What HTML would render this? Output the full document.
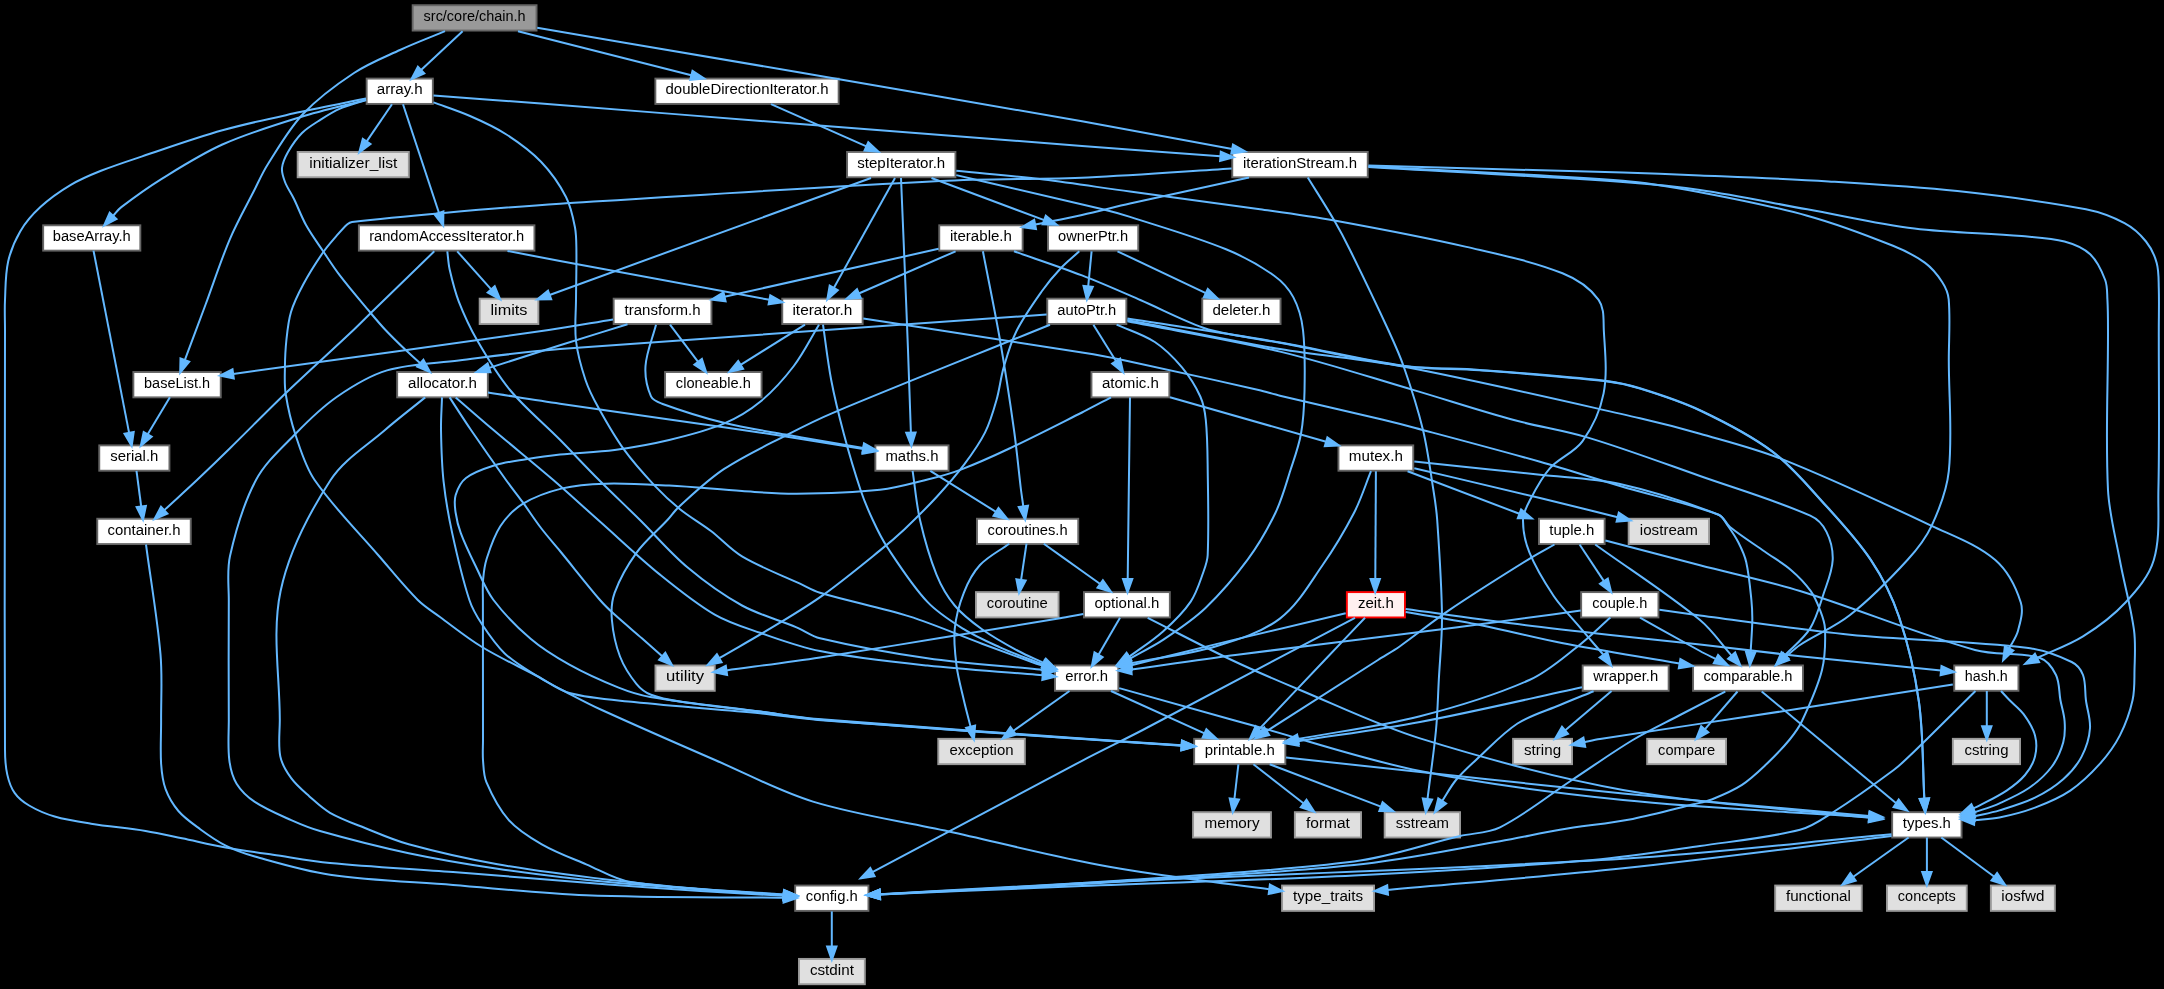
<!DOCTYPE html><html><head><meta charset="utf-8"><style>html,body{margin:0;padding:0;background:#000;}svg{display:block;will-change:transform}</style></head><body>
<svg width="2164" height="989" viewBox="0 0 2164 989">
<rect x="0" y="0" width="2164" height="989" fill="#000"/>
<g font-family="Liberation Sans, sans-serif" font-size="14.0" style="opacity:0.999" text-anchor="middle" fill="#000">
<rect x="412.67" y="5.23" width="123.87" height="25.33" fill="#999999" stroke="#666666" stroke-width="1.9"/>
<text x="474.60" y="21.10" textLength="102.0" lengthAdjust="spacingAndGlyphs">src/core/chain.h</text>
<rect x="366.67" y="78.59" width="66.17" height="25.33" fill="#ffffff" stroke="#666666" stroke-width="1.9"/>
<text x="399.75" y="94.46" textLength="46.0" lengthAdjust="spacingAndGlyphs">array.h</text>
<rect x="655.37" y="78.59" width="183.27" height="25.33" fill="#ffffff" stroke="#666666" stroke-width="1.9"/>
<text x="747.00" y="94.46" textLength="163.0" lengthAdjust="spacingAndGlyphs">doubleDirectionIterator.h</text>
<rect x="297.67" y="151.95" width="111.17" height="25.33" fill="#e0e0e0" stroke="#999999" stroke-width="1.9"/>
<text x="353.25" y="167.82" textLength="88.0" lengthAdjust="spacingAndGlyphs">initializer_list</text>
<rect x="847.07" y="151.95" width="108.37" height="25.33" fill="#ffffff" stroke="#666666" stroke-width="1.9"/>
<text x="901.25" y="167.82" textLength="88.0" lengthAdjust="spacingAndGlyphs">stepIterator.h</text>
<rect x="1232.27" y="151.95" width="135.47" height="25.33" fill="#ffffff" stroke="#666666" stroke-width="1.9"/>
<text x="1300.00" y="167.82" textLength="114.0" lengthAdjust="spacingAndGlyphs">iterationStream.h</text>
<rect x="43.17" y="225.31" width="97.17" height="25.33" fill="#ffffff" stroke="#666666" stroke-width="1.9"/>
<text x="91.75" y="241.18" textLength="78.0" lengthAdjust="spacingAndGlyphs">baseArray.h</text>
<rect x="358.87" y="225.31" width="175.57" height="25.33" fill="#ffffff" stroke="#666666" stroke-width="1.9"/>
<text x="446.65" y="241.18" textLength="155.0" lengthAdjust="spacingAndGlyphs">randomAccessIterator.h</text>
<rect x="939.27" y="225.31" width="83.37" height="25.33" fill="#ffffff" stroke="#666666" stroke-width="1.9"/>
<text x="980.95" y="241.18" textLength="62.0" lengthAdjust="spacingAndGlyphs">iterable.h</text>
<rect x="1047.97" y="225.31" width="90.27" height="25.33" fill="#ffffff" stroke="#666666" stroke-width="1.9"/>
<text x="1093.10" y="241.18" textLength="70.0" lengthAdjust="spacingAndGlyphs">ownerPtr.h</text>
<rect x="479.67" y="298.67" width="58.67" height="25.33" fill="#e0e0e0" stroke="#999999" stroke-width="1.9"/>
<text x="509.00" y="314.54" textLength="37.0" lengthAdjust="spacingAndGlyphs">limits</text>
<rect x="613.67" y="298.67" width="97.77" height="25.33" fill="#ffffff" stroke="#666666" stroke-width="1.9"/>
<text x="662.55" y="314.54" textLength="76.0" lengthAdjust="spacingAndGlyphs">transform.h</text>
<rect x="782.27" y="298.67" width="80.37" height="25.33" fill="#ffffff" stroke="#666666" stroke-width="1.9"/>
<text x="822.45" y="314.54" textLength="60.0" lengthAdjust="spacingAndGlyphs">iterator.h</text>
<rect x="1047.27" y="298.67" width="79.07" height="25.33" fill="#ffffff" stroke="#666666" stroke-width="1.9"/>
<text x="1086.80" y="314.54" textLength="59.0" lengthAdjust="spacingAndGlyphs">autoPtr.h</text>
<rect x="1202.27" y="298.67" width="78.27" height="25.33" fill="#ffffff" stroke="#666666" stroke-width="1.9"/>
<text x="1241.40" y="314.54" textLength="58.0" lengthAdjust="spacingAndGlyphs">deleter.h</text>
<rect x="133.37" y="372.03" width="87.37" height="25.33" fill="#ffffff" stroke="#666666" stroke-width="1.9"/>
<text x="177.05" y="387.90" textLength="66.0" lengthAdjust="spacingAndGlyphs">baseList.h</text>
<rect x="397.17" y="372.03" width="90.67" height="25.33" fill="#ffffff" stroke="#666666" stroke-width="1.9"/>
<text x="442.50" y="387.90" textLength="69.0" lengthAdjust="spacingAndGlyphs">allocator.h</text>
<rect x="665.07" y="372.03" width="96.47" height="25.33" fill="#ffffff" stroke="#666666" stroke-width="1.9"/>
<text x="713.30" y="387.90" textLength="75.0" lengthAdjust="spacingAndGlyphs">cloneable.h</text>
<rect x="1091.47" y="372.03" width="77.87" height="25.33" fill="#ffffff" stroke="#666666" stroke-width="1.9"/>
<text x="1130.40" y="387.90" textLength="57.0" lengthAdjust="spacingAndGlyphs">atomic.h</text>
<rect x="99.27" y="445.39" width="70.17" height="25.33" fill="#ffffff" stroke="#666666" stroke-width="1.9"/>
<text x="134.35" y="461.26" textLength="48.0" lengthAdjust="spacingAndGlyphs">serial.h</text>
<rect x="875.37" y="445.39" width="73.17" height="25.33" fill="#ffffff" stroke="#666666" stroke-width="1.9"/>
<text x="911.95" y="461.26" textLength="53.0" lengthAdjust="spacingAndGlyphs">maths.h</text>
<rect x="1338.47" y="445.39" width="74.77" height="25.33" fill="#ffffff" stroke="#666666" stroke-width="1.9"/>
<text x="1375.85" y="461.26" textLength="54.0" lengthAdjust="spacingAndGlyphs">mutex.h</text>
<rect x="97.27" y="518.75" width="93.47" height="25.33" fill="#ffffff" stroke="#666666" stroke-width="1.9"/>
<text x="144.00" y="534.62" textLength="73.0" lengthAdjust="spacingAndGlyphs">container.h</text>
<rect x="976.97" y="518.75" width="101.27" height="25.33" fill="#ffffff" stroke="#666666" stroke-width="1.9"/>
<text x="1027.60" y="534.62" textLength="80.0" lengthAdjust="spacingAndGlyphs">coroutines.h</text>
<rect x="1538.97" y="518.75" width="65.67" height="25.33" fill="#ffffff" stroke="#666666" stroke-width="1.9"/>
<text x="1571.80" y="534.62" textLength="45.0" lengthAdjust="spacingAndGlyphs">tuple.h</text>
<rect x="1628.67" y="518.75" width="80.37" height="25.33" fill="#e0e0e0" stroke="#999999" stroke-width="1.9"/>
<text x="1668.85" y="534.62" textLength="58.0" lengthAdjust="spacingAndGlyphs">iostream</text>
<rect x="975.97" y="592.11" width="82.57" height="25.33" fill="#e0e0e0" stroke="#999999" stroke-width="1.9"/>
<text x="1017.25" y="607.98" textLength="61.0" lengthAdjust="spacingAndGlyphs">coroutine</text>
<rect x="1083.97" y="592.11" width="85.87" height="25.33" fill="#ffffff" stroke="#666666" stroke-width="1.9"/>
<text x="1126.90" y="607.98" textLength="65.0" lengthAdjust="spacingAndGlyphs">optional.h</text>
<rect x="1346.87" y="592.11" width="58.07" height="25.33" fill="#fff0f0" stroke="#ff0000" stroke-width="1.9"/>
<text x="1375.90" y="607.98" textLength="36.0" lengthAdjust="spacingAndGlyphs">zeit.h</text>
<rect x="1581.17" y="592.11" width="77.27" height="25.33" fill="#ffffff" stroke="#666666" stroke-width="1.9"/>
<text x="1619.80" y="607.98" textLength="55.0" lengthAdjust="spacingAndGlyphs">couple.h</text>
<rect x="655.47" y="665.47" width="59.27" height="25.33" fill="#e0e0e0" stroke="#999999" stroke-width="1.9"/>
<text x="685.10" y="681.34" textLength="38.0" lengthAdjust="spacingAndGlyphs">utility</text>
<rect x="1054.97" y="665.47" width="63.37" height="25.33" fill="#ffffff" stroke="#666666" stroke-width="1.9"/>
<text x="1086.65" y="681.34" textLength="43.0" lengthAdjust="spacingAndGlyphs">error.h</text>
<rect x="1582.67" y="665.47" width="85.97" height="25.33" fill="#ffffff" stroke="#666666" stroke-width="1.9"/>
<text x="1625.65" y="681.34" textLength="65.0" lengthAdjust="spacingAndGlyphs">wrapper.h</text>
<rect x="1693.07" y="665.47" width="109.87" height="25.33" fill="#ffffff" stroke="#666666" stroke-width="1.9"/>
<text x="1748.00" y="681.34" textLength="89.0" lengthAdjust="spacingAndGlyphs">comparable.h</text>
<rect x="1954.27" y="665.47" width="64.17" height="25.33" fill="#ffffff" stroke="#666666" stroke-width="1.9"/>
<text x="1986.35" y="681.34" textLength="43.0" lengthAdjust="spacingAndGlyphs">hash.h</text>
<rect x="938.27" y="738.83" width="86.57" height="25.33" fill="#e0e0e0" stroke="#999999" stroke-width="1.9"/>
<text x="981.55" y="754.70" textLength="64.0" lengthAdjust="spacingAndGlyphs">exception</text>
<rect x="1194.17" y="738.83" width="91.17" height="25.33" fill="#ffffff" stroke="#666666" stroke-width="1.9"/>
<text x="1239.75" y="754.70" textLength="70.0" lengthAdjust="spacingAndGlyphs">printable.h</text>
<rect x="1513.07" y="738.83" width="58.97" height="25.33" fill="#e0e0e0" stroke="#999999" stroke-width="1.9"/>
<text x="1542.55" y="754.70" textLength="37.0" lengthAdjust="spacingAndGlyphs">string</text>
<rect x="1647.17" y="738.83" width="78.87" height="25.33" fill="#e0e0e0" stroke="#999999" stroke-width="1.9"/>
<text x="1686.60" y="754.70" textLength="57.0" lengthAdjust="spacingAndGlyphs">compare</text>
<rect x="1952.87" y="738.83" width="67.17" height="25.33" fill="#e0e0e0" stroke="#999999" stroke-width="1.9"/>
<text x="1986.45" y="754.70" textLength="44.0" lengthAdjust="spacingAndGlyphs">cstring</text>
<rect x="1193.07" y="812.19" width="77.87" height="25.33" fill="#e0e0e0" stroke="#999999" stroke-width="1.9"/>
<text x="1232.00" y="828.06" textLength="55.0" lengthAdjust="spacingAndGlyphs">memory</text>
<rect x="1294.87" y="812.19" width="66.17" height="25.33" fill="#e0e0e0" stroke="#999999" stroke-width="1.9"/>
<text x="1327.95" y="828.06" textLength="44.0" lengthAdjust="spacingAndGlyphs">format</text>
<rect x="1384.67" y="812.19" width="75.37" height="25.33" fill="#e0e0e0" stroke="#999999" stroke-width="1.9"/>
<text x="1422.35" y="828.06" textLength="53.0" lengthAdjust="spacingAndGlyphs">sstream</text>
<rect x="1892.17" y="812.19" width="69.37" height="25.33" fill="#ffffff" stroke="#666666" stroke-width="1.9"/>
<text x="1926.85" y="828.06" textLength="48.0" lengthAdjust="spacingAndGlyphs">types.h</text>
<rect x="795.17" y="885.55" width="73.27" height="25.33" fill="#ffffff" stroke="#666666" stroke-width="1.9"/>
<text x="831.80" y="901.42" textLength="52.0" lengthAdjust="spacingAndGlyphs">config.h</text>
<rect x="1282.07" y="885.55" width="91.97" height="25.33" fill="#e0e0e0" stroke="#999999" stroke-width="1.9"/>
<text x="1328.05" y="901.42" textLength="70.0" lengthAdjust="spacingAndGlyphs">type_traits</text>
<rect x="1775.17" y="885.55" width="86.57" height="25.33" fill="#e0e0e0" stroke="#999999" stroke-width="1.9"/>
<text x="1818.45" y="901.42" textLength="65.0" lengthAdjust="spacingAndGlyphs">functional</text>
<rect x="1886.97" y="885.55" width="79.77" height="25.33" fill="#e0e0e0" stroke="#999999" stroke-width="1.9"/>
<text x="1926.85" y="901.42" textLength="58.0" lengthAdjust="spacingAndGlyphs">concepts</text>
<rect x="1990.87" y="885.55" width="63.97" height="25.33" fill="#e0e0e0" stroke="#999999" stroke-width="1.9"/>
<text x="2022.85" y="901.42" textLength="43.0" lengthAdjust="spacingAndGlyphs">iosfwd</text>
<rect x="798.97" y="958.91" width="65.87" height="25.33" fill="#e0e0e0" stroke="#999999" stroke-width="1.9"/>
<text x="831.90" y="974.78" textLength="44.0" lengthAdjust="spacingAndGlyphs">cstdint</text>
</g>
<g fill="none" stroke="#63b8ff" stroke-width="2.0">
<path d="M462.6,31.2L421.1,70.1"/>
<path d="M518.0,31.2L691.3,75.3"/>
<path d="M537.2,27.8C624.8,42.7 712.4,57.5 800.0,72.5C894.0,88.6 988.1,104.7 1082.0,121.3C1132.1,130.2 1182.1,139.8 1232.2,149.1"/>
<path d="M445.0,31.2C430.0,37.5 414.8,43.2 400.0,50.0C384.4,57.2 368.3,63.6 354.0,73.0C335.8,85.0 318.0,98.1 303.0,114.0C289.0,128.8 279.0,146.9 268.0,164.0C262.7,172.2 258.8,181.3 254.4,190.0C246.2,206.2 237.1,222.1 230.0,238.8C220.8,260.5 213.6,282.9 205.4,305.0C198.6,323.4 191.7,341.7 184.8,360.1"/>
<path d="M392.0,104.2L366.7,141.4"/>
<path d="M403.0,104.2L439.0,213.0"/>
<path d="M366.0,100.0C344.0,105.7 321.7,110.5 300.0,117.2C273.8,125.3 247.4,133.3 222.4,144.5C201.2,154.0 181.5,166.6 161.7,178.8C147.7,187.5 134.4,197.1 121.3,207.1C118.1,209.5 115.8,212.9 113.1,215.9"/>
<path d="M366.0,98.6C344.0,103.1 321.9,107.3 300.0,112.1C274.1,117.8 248.0,123.1 222.4,130.3C195.1,138.0 168.4,147.6 141.5,156.6C127.9,161.1 114.3,165.5 101.0,170.8C90.7,174.9 80.3,179.2 70.8,184.9C60.0,191.3 49.6,198.6 40.4,207.1C32.6,214.2 25.6,222.3 20.2,231.4C14.7,240.8 10.5,251.1 8.1,261.7C5.3,274.2 5.6,287.2 5.0,300.0C4.5,310.0 5.0,320.0 5.0,330.0C5.0,470.0 4.3,610.0 5.0,750.0C5.0,758.2 5.5,766.6 7.3,774.6C8.7,781.0 10.8,787.5 14.6,792.8C18.3,798.1 23.6,802.2 29.1,805.5C37.1,810.2 45.7,813.9 54.6,816.5C66.5,820.0 78.8,821.8 91.0,823.7C109.1,826.6 127.5,828.1 145.6,831.0C157.8,833.0 169.9,835.8 182.0,838.3C196.6,841.3 211.1,844.8 225.7,847.4C241.4,850.2 257.2,852.4 273.0,854.7C292.0,857.5 310.9,861.1 330.0,862.9C370.9,866.8 412.0,868.8 453.0,872.0C504.8,876.0 556.6,880.5 608.4,884.5C638.9,886.8 669.5,889.0 700.0,891.0C727.9,892.8 755.8,894.2 783.7,895.8"/>
<path d="M366.0,100.0C357.3,102.9 348.3,104.9 340.0,108.6C332.4,111.9 325.5,116.5 318.5,121.0C312.8,124.7 306.8,128.2 302.0,133.0C296.5,138.6 291.9,145.2 288.0,152.0C285.2,156.9 282.6,162.3 282.0,168.0C281.5,172.7 283.3,177.5 285.0,182.0C287.3,188.0 291.2,193.2 294.0,199.0C298.2,207.6 301.4,216.7 306.0,225.0C311.0,234.0 317.2,242.4 323.0,251.0C328.5,259.2 333.8,267.6 339.8,275.4C348.6,286.9 357.9,297.8 367.2,308.9C373.2,316.0 379.1,323.2 385.5,330.0C391.9,336.8 398.6,343.3 405.4,349.8C410.2,354.4 415.3,358.8 420.2,363.3"/>
<path d="M433.5,102.4C445.7,106.9 458.1,110.8 470.0,116.0C482.2,121.3 494.4,126.8 505.6,134.0C518.2,142.1 530.6,151.0 541.0,161.8C551.0,172.2 559.4,184.2 566.0,197.0C570.9,206.4 573.0,217.1 575.0,227.5C576.4,234.9 576.3,242.5 576.4,250.0C576.6,266.7 576.1,283.3 576.0,300.0C575.9,313.7 574.4,327.4 576.0,341.0C577.6,354.3 581.3,367.3 585.5,380.0C588.7,389.5 593.3,398.5 598.2,407.3C606.1,421.6 614.1,435.9 623.7,449.2C633.0,462.1 643.7,474.0 654.6,485.6C662.5,494.0 671.0,502.0 680.0,509.2C689.8,517.1 700.9,523.3 711.0,531.0C721.6,539.1 730.5,549.6 742.0,556.4C760.4,567.3 780.6,574.7 800.0,583.7C806.6,586.8 813.0,590.7 820.0,592.8C849.5,601.6 879.9,607.2 909.2,616.4C933.9,624.2 957.7,634.7 982.0,643.7C1000.1,650.4 1018.3,657.2 1036.5,663.7C1038.7,664.5 1040.9,665.0 1043.2,665.7"/>
<path d="M433.5,95.5C469.3,98.2 505.2,100.8 541.0,103.6C627.3,110.3 713.7,117.2 800.0,124.0C894.0,131.4 988.0,138.8 1082.0,146.0C1128.1,149.5 1174.3,152.9 1220.4,156.3"/>
<path d="M771.0,104.2L866.4,146.4"/>
<path d="M871.0,178.0L549.6,295.0"/>
<path d="M895.0,178.0L833.8,287.9"/>
<path d="M901.0,178.0C902.0,202.0 903.0,226.0 904.0,250.0C905.4,283.3 906.7,316.7 908.0,350.0C909.0,377.6 909.9,405.1 910.9,432.7"/>
<path d="M931.5,178.0L1044.2,220.1"/>
<path d="M956.3,170.7C985.4,173.7 1014.5,176.1 1043.5,179.6C1072.4,183.1 1101.2,187.7 1130.0,191.6C1173.3,197.5 1216.7,203.1 1260.0,209.2C1284.8,212.7 1309.7,216.0 1334.3,220.5C1378.5,228.6 1422.7,236.8 1466.4,246.9C1498.8,254.4 1531.7,261.0 1562.5,273.3C1576.4,278.8 1589.8,287.7 1598.6,299.8C1604.6,308.1 1603.3,319.8 1603.8,330.0C1604.9,351.1 1607.6,372.6 1603.6,393.4C1600.3,410.6 1592.6,427.2 1582.4,441.4C1574.2,452.8 1559.2,457.8 1549.8,468.3C1541.5,477.6 1535.7,488.9 1530.0,500.0C1526.7,506.3 1523.1,512.9 1523.0,520.0C1522.9,531.0 1525.3,542.2 1529.4,552.4C1535.6,567.8 1544.5,582.2 1553.7,596.0C1560.7,606.5 1569.8,615.5 1578.0,625.2C1586.4,635.2 1595.0,645.0 1603.5,654.9"/>
<path d="M956.3,175.1C1005.1,186.5 1054.0,197.5 1102.7,209.2C1111.9,211.4 1121.0,214.0 1130.0,216.9C1162.1,227.3 1194.7,236.5 1226.0,249.3C1243.0,256.2 1259.3,265.1 1274.2,275.7C1282.1,281.3 1288.9,288.9 1293.4,297.4C1298.7,307.4 1301.7,318.7 1303.0,330.0C1305.4,350.4 1304.9,371.1 1304.5,391.7C1304.2,405.7 1303.5,419.9 1301.0,433.7C1298.8,446.1 1294.4,458.0 1290.5,470.0C1285.9,484.3 1282.1,498.9 1275.6,512.5C1267.8,528.8 1258.7,544.6 1248.0,559.2C1235.2,576.6 1221.1,593.1 1205.5,608.0C1192.7,620.2 1177.7,630.1 1163.0,639.9C1152.4,647.0 1140.7,652.4 1129.6,658.7"/>
<path d="M1249.0,177.5C1209.3,186.2 1169.6,194.7 1130.0,203.6C1114.0,207.2 1098.1,211.4 1082.0,214.9C1066.4,218.3 1050.7,221.3 1035.1,224.5"/>
<path d="M1307.8,177.5C1316.6,191.8 1325.8,205.9 1334.3,220.5C1339.9,230.1 1345.1,240.0 1350.0,250.0C1363.1,276.5 1375.9,303.1 1388.3,330.0C1393.8,342.0 1399.4,354.0 1403.7,366.5C1411.0,387.4 1417.8,408.5 1423.0,430.0C1427.7,449.7 1430.2,469.9 1433.4,490.0C1435.0,500.0 1436.5,509.9 1437.2,520.0C1439.4,552.3 1441.7,584.6 1442.0,617.0C1442.2,638.0 1439.9,659.0 1438.8,680.0C1437.9,696.7 1437.6,713.4 1436.0,730.0C1433.8,753.1 1430.3,776.0 1427.5,799.1"/>
<path d="M1231.6,168.5C1183.7,171.5 1135.8,175.3 1087.9,177.4C1038.6,179.5 989.3,178.5 940.0,181.0C813.3,187.3 686.6,195.6 560.0,203.7C521.1,206.2 482.3,209.5 443.5,212.9C413.0,215.6 382.4,218.4 352.0,222.0C350.3,222.2 348.7,223.2 347.4,224.3C343.5,227.8 340.1,231.8 336.7,235.7C332.0,241.2 327.1,246.5 323.0,252.5C315.9,262.8 309.1,273.5 303.2,284.5C298.5,293.3 293.9,302.4 291.0,312.0C288.3,321.1 287.4,330.6 286.4,340.0C285.4,349.3 285.0,358.7 284.9,368.0C284.8,376.7 284.3,385.4 285.7,394.0C287.9,407.9 291.1,421.8 295.6,435.2C300.8,450.6 305.4,466.7 314.6,480.0C333.5,507.3 357.3,530.8 379.0,556.0C391.8,570.8 404.0,586.2 417.8,600.0C424.4,606.6 432.5,611.5 440.0,617.0C453.9,627.2 467.3,638.1 482.0,647.0C499.7,657.8 518.7,666.3 537.0,676.0C547.8,681.7 557.6,689.8 569.4,693.0C590.4,698.6 612.4,699.7 634.0,702.0C675.9,706.5 718.0,709.2 760.0,713.3C779.4,715.2 798.6,718.5 818.0,720.0C905.9,727.0 994.0,732.8 1082.0,739.0C1115.2,741.3 1148.5,743.5 1181.7,745.7"/>
<path d="M1368.4,165.6C1453.3,167.9 1538.1,170.1 1623.0,172.6C1648.7,173.4 1674.3,174.3 1700.0,175.4C1742.9,177.2 1785.8,178.8 1828.6,181.4C1871.5,184.0 1914.5,186.5 1957.3,191.1C2000.3,195.8 2043.4,201.1 2085.9,209.3C2099.3,211.9 2112.4,216.7 2124.5,223.2C2132.8,227.6 2140.1,234.2 2146.0,241.5C2151.0,247.7 2154.6,255.2 2156.7,262.9C2159.0,271.2 2158.5,280.0 2158.8,288.6C2159.2,302.4 2158.8,316.2 2158.8,330.0C2158.7,383.3 2159.6,436.7 2158.4,490.0C2157.9,513.4 2160.4,537.6 2153.8,560.0C2149.0,576.3 2137.1,590.0 2125.5,602.5C2113.2,615.8 2098.4,626.8 2083.0,636.4C2068.6,645.4 2052.3,650.8 2037.0,658.0"/>
<path d="M1368.4,166.5C1453.3,171.2 1538.3,174.1 1623.0,180.7C1648.9,182.7 1674.5,187.4 1700.0,192.2C1735.9,199.0 1772.0,205.9 1807.2,215.7C1836.4,223.8 1864.9,234.5 1893.0,245.8C1904.3,250.3 1915.3,255.7 1925.1,262.9C1932.0,268.0 1937.6,275.0 1942.3,282.2C1945.6,287.3 1948.2,293.3 1948.7,299.4C1950.4,319.5 1948.8,339.8 1948.8,360.0C1948.8,397.1 1952.6,434.3 1948.8,471.2C1946.8,490.2 1939.7,508.5 1931.6,525.8C1925.7,538.5 1916.8,549.7 1907.4,560.0C1889.5,579.6 1870.8,598.6 1850.0,615.0C1834.8,627.1 1816.3,634.4 1800.0,645.0C1795.0,648.3 1790.7,652.6 1786.1,656.5"/>
<path d="M1368.4,167.0C1453.3,172.0 1538.2,176.1 1623.0,182.0C1648.7,183.8 1674.5,186.2 1700.0,190.0C1735.9,195.3 1771.5,202.9 1807.2,209.3C1842.9,215.7 1878.4,224.1 1914.4,228.6C1949.9,233.0 1985.9,233.0 2021.6,236.1C2036.0,237.3 2050.6,237.8 2064.5,241.5C2073.8,244.0 2083.2,247.7 2090.2,254.3C2097.4,261.1 2101.7,270.7 2105.2,280.0C2107.5,286.1 2107.0,292.9 2107.4,299.4C2108.0,309.6 2108.0,319.8 2108.0,330.0C2108.2,383.3 2105.3,436.7 2108.0,490.0C2109.2,513.6 2115.5,536.7 2119.8,560.0C2124.1,583.4 2130.8,606.4 2134.0,630.0C2135.8,643.2 2134.8,656.7 2134.5,670.0C2134.3,680.0 2134.8,690.2 2132.6,700.0C2129.9,712.2 2125.6,724.2 2119.9,735.4C2114.6,745.7 2107.7,755.1 2100.0,763.7C2091.1,773.6 2081.4,783.1 2070.3,790.6C2059.5,797.9 2047.2,803.0 2035.0,807.6C2023.5,812.0 2011.5,815.0 1999.5,817.5C1991.2,819.2 1982.7,819.3 1974.3,820.2"/>
<path d="M93.5,250.6L129.1,432.9"/>
<path d="M434.3,251.3C413.0,272.0 391.6,292.7 370.3,313.5C364.7,319.0 359.2,324.6 353.5,330.0C331.2,351.0 308.5,371.4 286.4,392.5C267.3,410.8 248.9,429.7 230.0,448.2C219.1,458.9 208.1,469.5 197.0,480.0C186.2,490.2 175.1,500.1 164.2,510.2"/>
<path d="M447.3,251.3C448.1,257.3 448.3,263.4 449.6,269.3C452.1,280.1 454.7,291.0 458.7,301.3C463.9,314.6 469.9,327.6 477.0,340.0C487.0,357.3 497.2,374.6 510.0,390.0C525.0,408.1 543.5,423.1 560.0,439.8C573.1,453.1 585.8,466.8 599.0,480.0C612.5,493.5 626.4,506.6 640.0,520.0C655.9,535.7 670.3,553.0 687.4,567.3C704.4,581.6 722.5,594.8 742.0,605.5C759.1,614.9 778.5,619.7 796.5,627.3C804.5,630.7 811.6,636.3 820.0,638.3C855.4,646.7 891.3,653.2 927.4,658.3C963.6,663.5 1000.1,665.6 1036.5,669.2C1038.6,669.4 1040.7,669.6 1042.7,669.8"/>
<path d="M457.2,251.3L491.2,289.4"/>
<path d="M507.5,251.0C525.0,254.3 542.5,257.6 560.0,260.9C629.8,273.9 699.6,286.9 769.5,299.8"/>
<path d="M938.6,248.8L724.5,296.8"/>
<path d="M955.6,251.3L858.8,293.5"/>
<path d="M982.9,251.3C988.6,280.9 994.8,310.3 1000.0,340.0C1005.2,369.9 1009.8,399.9 1014.0,430.0C1016.8,449.9 1018.6,470.0 1021.0,490.0C1021.7,495.5 1022.6,501.0 1023.3,506.5"/>
<path d="M1014.0,251.3C1036.7,259.3 1059.6,266.7 1082.0,275.4C1101.7,283.0 1120.9,291.6 1140.3,300.0C1161.3,309.1 1181.7,319.9 1203.2,327.7C1215.0,332.0 1227.7,333.6 1240.0,336.0C1253.3,338.6 1266.7,340.4 1280.0,342.8C1321.0,350.4 1361.7,360.3 1403.0,366.0C1428.3,369.5 1454.1,368.4 1479.6,370.3C1521.2,373.4 1562.9,376.4 1604.4,381.1C1616.4,382.5 1628.4,385.0 1640.0,388.6C1660.7,395.0 1681.4,401.7 1701.0,411.0C1725.6,422.7 1750.1,435.1 1771.9,451.4C1791.0,465.7 1806.4,484.4 1822.4,502.0C1839.4,520.7 1857.0,539.3 1871.0,560.4C1882.7,577.9 1892.3,597.1 1899.0,617.0C1908.3,644.5 1914.9,673.1 1918.9,701.9C1923.4,733.9 1922.5,766.4 1924.3,798.7"/>
<path d="M1079.3,251.3C1073.2,256.9 1066.7,262.0 1061.0,268.0C1054.2,275.2 1047.7,282.9 1042.0,291.0C1032.9,303.9 1023.6,316.9 1016.5,331.0C1010.7,342.5 1007.3,355.0 1003.7,367.4C1000.6,378.1 999.6,389.3 996.5,400.0C993.4,411.0 990.2,422.2 985.1,432.4C979.3,443.9 971.8,454.4 964.1,464.7C955.6,476.0 946.2,486.6 936.6,497.0C926.2,508.2 915.4,518.9 904.3,529.4C896.5,536.7 888.3,543.7 880.0,550.4C861.5,565.4 843.1,580.6 823.7,594.6C809.1,605.1 793.7,614.4 778.3,623.7C758.8,635.6 738.9,646.7 719.2,658.2"/>
<path d="M1091.6,251.3L1088.2,286.4"/>
<path d="M1117.5,251.3L1205.8,293.1"/>
<path d="M613.0,319.4C591.6,322.9 570.2,326.8 548.7,330.0C498.4,337.5 448.0,344.3 397.7,351.3C342.9,358.9 288.0,366.4 233.1,373.9"/>
<path d="M627.5,324.3C605.0,331.3 582.5,338.1 560.0,345.2C536.3,352.7 512.7,360.3 489.1,367.9"/>
<path d="M656.0,324.7C652.5,338.5 646.5,351.8 645.5,366.0C644.8,376.3 646.9,387.0 651.0,396.4C652.8,400.4 657.9,402.2 662.0,403.7C682.3,411.1 702.9,417.6 723.8,422.8C744.2,427.9 765.0,430.9 785.7,434.6C811.5,439.3 837.4,443.5 863.2,448.0"/>
<path d="M670.0,324.7L698.1,361.8"/>
<path d="M805.0,324.7L740.6,364.9"/>
<path d="M819.0,324.7C810.6,338.5 803.6,353.2 793.8,366.0C783.9,379.0 772.8,391.4 760.2,401.8C749.3,410.8 736.9,418.2 723.8,423.7C706.3,431.1 687.7,435.6 669.2,440.0C651.2,444.3 632.9,447.5 614.6,450.0C596.5,452.4 578.2,452.7 560.0,454.6C548.6,455.8 537.3,457.4 526.0,459.2C515.7,460.9 505.2,462.1 495.2,465.2C485.1,468.4 474.5,471.6 466.0,478.0C460.6,482.1 457.5,488.9 455.6,495.3C453.9,500.8 454.8,506.8 455.6,512.5C456.6,519.5 458.3,526.5 460.8,533.1C465.2,544.9 470.8,556.2 476.3,567.5C481.7,578.5 486.1,590.2 493.5,600.0C504.3,614.2 517.0,627.2 530.6,638.8C542.4,648.9 555.8,657.1 569.4,664.7C585.0,673.4 601.4,680.8 618.0,687.4C628.4,691.6 639.2,695.1 650.3,697.0C686.7,703.2 723.4,706.8 760.0,711.6C779.3,714.1 798.6,717.4 818.0,719.0C905.9,726.3 994.0,732.2 1082.0,738.5C1115.2,740.9 1148.5,743.0 1181.7,745.2"/>
<path d="M823.0,324.7C825.7,343.1 827.7,361.7 831.2,380.0C834.7,398.4 839.2,416.5 844.0,434.6C848.9,453.0 854.2,471.2 860.3,489.2C863.8,499.7 868.1,510.0 872.8,520.0C877.1,529.3 881.6,538.7 887.3,547.3C899.8,566.1 912.0,585.4 927.4,601.9C937.8,613.0 950.9,621.1 963.8,629.2C975.2,636.4 987.7,641.8 1000.0,647.4C1011.9,652.8 1024.3,657.2 1036.5,662.0C1038.7,662.9 1041.0,663.5 1043.3,664.3"/>
<path d="M863.3,318.4C936.2,329.8 1009.1,340.8 1082.0,352.5C1095.7,354.7 1109.3,357.1 1122.8,360.0C1168.1,369.6 1213.4,379.7 1258.6,390.0C1265.8,391.6 1272.8,394.0 1280.0,395.7C1314.3,403.9 1348.8,411.6 1383.1,419.8C1393.9,422.4 1404.6,425.1 1415.3,428.0C1456.9,439.1 1498.6,450.1 1540.0,461.8C1566.8,469.4 1593.3,478.1 1620.0,486.0C1652.8,495.7 1686.5,502.8 1718.6,514.7C1723.2,516.4 1725.2,522.0 1728.0,526.0C1731.7,531.2 1735.4,536.6 1738.3,542.3C1741.5,548.6 1744.6,555.1 1746.2,562.0C1749.0,574.5 1750.1,587.3 1751.4,600.0C1752.1,607.0 1752.4,614.0 1752.3,621.0C1752.1,631.4 1751.2,641.8 1750.6,652.2"/>
<path d="M1046.6,314.6C884.4,326.1 722.1,336.3 560.0,349.0C526.1,351.6 492.4,356.3 458.7,360.5C434.8,363.5 410.1,363.5 387.0,370.4C368.8,375.8 352.3,386.2 336.7,397.0C321.6,407.5 308.4,420.5 295.6,433.7C281.4,448.3 265.6,462.1 256.0,480.0C243.3,503.6 235.9,529.9 230.0,556.0C226.7,570.6 228.9,586.0 228.8,601.0C228.5,640.7 228.7,680.3 228.8,720.0C228.8,733.3 227.7,746.8 229.3,760.0C230.3,768.2 232.3,776.6 236.6,783.7C241.1,791.0 247.7,797.1 254.8,801.9C266.1,809.4 278.8,814.6 291.2,820.1C300.6,824.3 310.1,828.2 320.0,831.0C349.3,839.3 378.9,846.9 408.7,853.2C438.1,859.4 467.8,864.4 497.5,868.7C534.4,874.0 571.3,878.6 608.4,882.0C666.7,887.4 725.3,890.7 783.7,895.1"/>
<path d="M1050.0,324.7C977.7,354.1 905.0,382.7 833.0,412.8C817.5,419.3 802.4,426.9 787.5,434.6C766.0,445.7 743.9,455.8 723.8,469.2C707.3,480.2 693.0,494.1 678.3,507.4C674.2,511.1 671.2,515.9 667.4,520.0C657.2,531.1 645.2,540.6 636.4,552.8C627.5,565.1 619.8,578.5 614.6,592.8C611.5,601.4 611.1,610.9 611.9,620.0C613.0,632.4 615.5,644.9 620.0,656.5C623.8,666.4 629.7,675.6 636.4,683.8C640.2,688.5 645.3,692.5 651.0,694.7C661.1,698.7 672.0,700.3 682.7,702.0C708.4,706.0 734.2,708.3 760.0,711.6C779.4,714.1 798.6,717.9 818.0,719.5C905.9,726.9 994.0,732.5 1082.0,738.8C1115.2,741.2 1148.5,743.2 1181.7,745.4"/>
<path d="M1093.4,324.7L1116.1,361.2"/>
<path d="M1116.6,324.6C1129.3,330.4 1143.1,334.3 1154.8,342.0C1165.2,348.8 1174.0,357.9 1182.0,367.4C1189.3,376.2 1195.6,386.1 1200.3,396.5C1203.6,403.8 1205.0,412.0 1205.8,420.0C1207.5,436.6 1207.5,453.3 1207.7,470.0C1208.1,498.3 1208.9,526.7 1207.7,555.0C1207.5,560.8 1205.4,566.5 1203.4,572.0C1199.7,582.1 1196.7,592.7 1190.7,601.6C1183.1,612.8 1173.1,622.4 1163.0,631.4C1152.5,640.8 1140.4,648.3 1129.1,656.8"/>
<path d="M1127.4,318.5C1178.3,326.5 1229.2,333.8 1280.0,342.5C1321.1,349.5 1361.7,360.0 1403.0,365.7C1428.3,369.2 1454.1,368.0 1479.6,369.9C1521.2,373.0 1562.9,376.0 1604.4,380.7C1616.4,382.1 1628.4,384.6 1640.0,388.2C1660.7,394.6 1681.4,401.3 1701.0,410.6C1725.6,422.3 1750.1,434.7 1771.9,451.0C1791.0,465.3 1806.4,484.0 1822.4,501.6C1839.4,520.3 1857.0,538.9 1871.0,560.0C1882.7,577.5 1892.3,596.7 1899.0,616.6C1908.3,644.1 1914.9,672.7 1918.9,701.5C1923.4,733.6 1922.6,766.3 1924.4,798.7"/>
<path d="M1127.4,319.9C1178.3,329.6 1228.9,340.4 1280.0,349.1C1320.8,356.0 1362.3,358.8 1403.0,366.6C1482.4,381.8 1561.1,400.4 1640.0,418.2C1660.1,422.8 1680.2,428.0 1700.0,433.7C1727.5,441.6 1755.4,448.5 1782.0,459.1C1832.7,479.3 1882.2,502.5 1931.6,525.8C1953.4,536.1 1977.0,544.3 1995.3,560.0C2007.8,570.8 2015.8,586.8 2020.8,602.5C2023.7,611.5 2020.3,621.6 2018.0,630.8C2016.4,637.2 2012.1,642.6 2009.1,648.4"/>
<path d="M1127.4,321.3C1178.3,331.4 1229.6,339.5 1280.0,351.6C1324.9,362.4 1368.7,376.9 1413.0,389.9C1446.4,399.7 1479.4,410.7 1512.9,419.8C1537.7,426.6 1563.4,430.2 1588.0,437.6C1625.8,449.0 1662.8,462.9 1700.0,476.0C1736.9,489.0 1774.6,499.9 1810.3,515.7C1817.3,518.8 1823.1,525.1 1826.5,531.9C1830.8,540.5 1833.1,550.4 1832.7,560.0C1832.2,571.6 1827.3,582.7 1823.6,593.7C1819.7,605.6 1816.6,618.0 1810.0,628.6C1803.5,638.9 1793.3,646.4 1784.9,655.2"/>
<path d="M169.9,397.2L147.7,434.3"/>
<path d="M425.2,397.4C411.8,408.3 398.0,418.7 385.0,430.0C366.4,446.2 344.0,459.3 330.6,480.0C308.5,514.0 289.0,551.3 280.6,591.0C271.7,633.1 279.9,677.0 279.8,720.0C279.8,732.1 278.0,744.5 280.3,756.4C281.9,764.4 286.4,771.6 291.2,778.2C296.2,785.1 303.0,790.7 309.4,796.4C316.0,802.2 322.4,808.5 330.0,812.8C341.1,819.1 353.2,823.3 365.0,828.0C379.4,833.8 393.7,840.2 408.7,844.3C438.0,852.3 467.6,859.0 497.5,864.3C534.2,870.8 571.3,875.4 608.4,879.8C645.3,884.2 682.3,887.7 719.3,890.9C740.7,892.7 762.2,893.5 783.7,894.8"/>
<path d="M442.0,397.4C441.7,408.3 440.8,419.1 441.0,430.0C441.3,447.2 441.7,464.5 443.6,481.6C445.5,498.9 448.5,516.1 452.2,533.1C457.1,555.6 462.2,578.1 469.4,600.0C472.2,608.7 477.0,616.7 482.0,624.3C488.8,634.6 495.7,645.0 504.7,653.4C514.3,662.4 525.9,669.0 537.0,676.0C547.5,682.5 558.5,688.1 569.4,693.8C580.1,699.4 590.8,705.0 601.8,710.0C639.4,727.1 677.2,743.6 715.0,760.0C747.6,774.1 779.1,791.2 813.0,801.6C857.4,815.2 903.7,821.4 949.0,831.5C993.4,841.4 1037.5,852.4 1082.0,861.5C1109.5,867.1 1137.2,871.5 1165.0,875.6C1199.7,880.7 1234.5,884.7 1269.3,889.3"/>
<path d="M449.6,397.4C456.7,408.3 463.7,419.3 471.0,430.0C482.5,446.8 494.2,463.5 506.0,480.0C511.4,487.5 517.2,494.7 522.7,502.2C528.9,510.7 534.6,519.6 541.0,528.0C547.0,535.9 553.7,543.3 560.0,551.0C573.4,567.3 586.3,584.0 600.0,600.0C604.5,605.2 609.5,610.0 614.6,614.6C623.5,622.7 632.8,630.4 641.9,638.3C648.7,644.3 655.4,650.3 662.2,656.3"/>
<path d="M455.7,397.4C468.3,408.3 480.8,419.3 493.5,430.0C513.3,446.8 533.6,463.1 553.3,480.0C568.5,493.1 583.2,506.7 598.2,520.0C618.8,538.2 638.7,557.3 660.0,574.6C677.5,588.8 695.2,603.2 714.7,614.6C728.8,622.8 744.6,627.5 760.0,632.8C779.8,639.6 799.5,647.0 820.0,651.0C855.5,657.9 891.5,661.7 927.4,665.6C963.7,669.6 1000.1,671.6 1036.5,674.7C1038.6,674.9 1040.7,675.1 1042.7,675.3"/>
<path d="M488.0,392.5C512.0,396.2 536.0,400.2 560.0,403.7C614.6,411.8 669.2,419.4 723.8,427.3C744.4,430.3 765.1,433.2 785.7,436.4C811.6,440.4 837.4,444.9 863.2,449.1"/>
<path d="M1170.0,397.2L1326.1,441.8"/>
<path d="M1130.0,397.4C1129.6,428.3 1129.2,459.1 1128.8,490.0C1128.4,519.7 1128.0,549.4 1127.7,579.1"/>
<path d="M1111.0,397.4C1101.3,402.4 1091.7,407.6 1082.0,412.5C1057.9,424.6 1033.8,437.0 1009.4,448.5C993.5,456.0 977.4,463.3 960.9,469.6C950.4,473.6 939.4,476.6 928.5,479.3C912.5,483.3 896.4,488.0 880.0,489.8C852.3,492.8 824.4,493.6 796.6,493.8C778.4,494.0 760.2,492.2 742.0,491.0C717.7,489.4 693.5,486.9 669.2,485.6C648.0,484.5 626.7,483.1 605.5,483.7C591.0,484.1 576.3,485.0 562.2,488.4C548.5,491.8 534.8,496.5 522.7,503.9C513.7,509.4 506.1,517.5 500.3,526.3C493.8,536.2 490.2,547.8 486.6,559.0C484.5,565.6 483.7,572.7 483.1,579.6C482.5,586.4 482.9,593.2 482.9,600.0C482.9,646.7 483.0,693.3 483.0,740.0C483.0,746.7 482.5,753.4 483.0,760.0C483.6,767.5 483.5,775.3 486.4,782.2C492.1,795.6 498.9,809.0 508.6,819.9C517.7,830.1 529.9,837.5 541.8,844.3C555.9,852.4 571.3,858.0 586.2,864.3C600.9,870.5 614.9,879.6 630.6,882.0C681.2,889.7 732.7,890.4 783.7,894.5"/>
<path d="M136.5,470.8L141.2,506.5"/>
<path d="M912.6,470.8C915.1,487.2 916.3,503.8 920.0,520.0C924.3,538.5 929.4,557.0 936.5,574.6C941.0,585.7 947.0,596.3 954.7,605.5C962.4,614.8 972.2,622.2 982.0,629.2C993.5,637.4 1005.9,644.3 1018.3,651.0C1026.5,655.5 1035.3,658.9 1043.8,662.9"/>
<path d="M930.3,470.8L996.0,511.9"/>
<path d="M1375.9,471.2L1375.3,579.1"/>
<path d="M1407.6,471.2L1519.4,513.8"/>
<path d="M1414.3,468.3C1456.2,478.2 1498.1,487.9 1540.0,498.0C1565.9,504.2 1591.8,510.8 1617.7,517.2"/>
<path d="M1371.0,471.2C1365.4,485.0 1361.0,499.3 1354.2,512.5C1344.7,530.8 1334.1,548.6 1322.3,565.5C1309.3,584.1 1297.9,604.9 1279.9,618.6C1261.5,632.6 1238.4,639.6 1216.2,646.2C1188.5,654.5 1159.5,657.5 1131.2,663.2"/>
<path d="M1414.3,461.6C1456.2,466.0 1498.1,470.1 1540.0,474.7C1566.7,477.6 1593.8,478.1 1620.0,484.0C1653.6,491.5 1686.5,502.2 1718.6,514.7C1723.8,516.7 1725.6,523.5 1730.0,527.0C1741.0,535.8 1753.0,543.4 1764.6,551.5C1773.3,557.7 1782.8,562.9 1790.9,569.9C1798.2,576.1 1805.0,583.1 1810.6,590.9C1814.8,596.6 1817.5,603.4 1820.0,610.0C1822.3,616.0 1824.8,622.2 1825.0,628.6C1825.5,642.4 1825.3,656.6 1822.0,670.0C1817.6,687.7 1809.7,704.5 1802.0,721.0C1798.8,727.9 1794.1,734.1 1789.3,740.0C1782.2,748.6 1774.4,756.6 1766.3,764.3C1758.6,771.6 1750.9,779.1 1742.0,784.9C1732.6,791.0 1722.1,795.3 1711.7,799.5C1705.9,801.8 1699.6,802.8 1693.5,804.3C1673.3,809.3 1653.2,815.0 1632.8,818.9C1608.7,823.5 1584.2,825.7 1560.0,829.8C1539.9,833.2 1520.1,837.8 1500.0,841.2C1451.4,849.5 1403.1,860.0 1354.0,865.0C1263.6,874.3 1172.7,878.4 1082.0,884.0C1014.6,888.2 947.2,890.9 879.8,894.4"/>
<path d="M146.0,544.5C150.8,581.1 157.3,617.6 160.5,654.4C162.4,676.2 161.0,698.1 161.1,720.0C161.2,734.6 160.2,749.2 161.1,763.7C161.7,772.3 162.6,781.1 165.6,789.2C168.5,797.1 172.9,804.6 178.4,811.0C184.6,818.2 192.6,823.6 200.2,829.2C208.4,835.2 216.7,841.1 225.7,845.6C235.0,850.2 244.8,853.7 254.8,856.5C279.6,863.4 304.5,871.0 330.0,874.7C370.7,880.6 412.0,881.7 453.0,885.0C497.4,888.6 541.7,893.6 586.2,895.3C652.0,897.9 717.8,897.0 783.7,897.8"/>
<path d="M1026.5,543.7L1021.1,579.9"/>
<path d="M1043.8,543.7C1056.5,552.8 1069.3,561.9 1082.0,571.0C1088.1,575.3 1094.1,579.7 1100.2,584.0"/>
<path d="M1009.2,543.7C999.5,550.8 988.2,556.2 980.0,565.0C972.7,572.9 967.7,582.8 963.8,592.8C959.2,604.4 955.9,616.8 954.7,629.2C953.5,641.3 955.0,653.6 956.5,665.6C958.0,677.2 961.2,688.6 963.8,700.0C965.9,709.0 968.3,717.8 970.6,726.7"/>
<path d="M1579.6,544.5L1603.9,581.1"/>
<path d="M1554.5,544.5C1546.1,549.3 1537.6,553.7 1529.4,558.8C1502.2,575.7 1475.0,592.7 1448.5,610.6C1431.9,621.8 1416.4,634.7 1400.0,646.2C1392.9,651.2 1385.3,655.3 1378.0,660.0C1340.9,683.7 1303.8,707.4 1266.7,731.1"/>
<path d="M1595.2,544.5C1630.1,569.7 1666.6,592.8 1700.0,620.0C1712.3,630.0 1721.0,643.8 1731.6,655.6"/>
<path d="M1605.4,540.5C1636.9,548.8 1668.4,557.1 1700.0,565.3C1733.3,573.9 1767.1,580.9 1800.0,591.0C1858.8,609.1 1915.7,633.4 1975.0,650.0C1996.0,655.9 2019.1,651.6 2040.0,658.0C2047.4,660.3 2052.6,668.0 2056.0,675.0C2059.7,682.6 2058.9,691.7 2060.4,700.0C2061.7,707.1 2064.1,714.0 2064.6,721.2C2065.1,728.3 2065.1,735.6 2063.2,742.5C2060.8,751.0 2057.2,759.4 2051.9,766.5C2045.7,774.8 2037.8,781.9 2029.3,787.8C2020.1,794.2 2009.7,798.7 1999.5,803.3C1991.2,807.0 1982.5,809.5 1974.0,812.5"/>
<path d="M1120.0,617.8L1098.5,654.8"/>
<path d="M1083.3,614.0C1075.5,615.4 1067.8,617.0 1060.0,618.3C1020.0,625.0 980.0,631.5 940.0,638.0C900.0,644.5 860.1,651.3 820.0,657.4C788.9,662.1 757.6,666.1 726.4,670.4"/>
<path d="M1147.7,617.8C1175.7,631.9 1203.3,646.6 1231.6,660.0C1254.1,670.7 1277.0,680.4 1300.0,690.0C1339.8,706.6 1378.8,725.6 1420.0,738.4C1486.7,759.0 1554.2,777.9 1623.0,790.0C1704.3,804.4 1787.2,808.5 1869.2,817.7"/>
<path d="M1345.7,613.3C1302.5,623.6 1259.3,633.6 1216.2,644.1C1187.8,651.0 1159.6,658.2 1131.3,665.3"/>
<path d="M1355.0,617.8C1284.2,655.2 1213.6,692.9 1142.7,730.0C1122.6,740.5 1102.1,750.2 1082.0,760.8C1012.0,797.6 942.3,835.0 872.4,872.1"/>
<path d="M1365.0,617.8C1351.6,631.9 1338.2,645.9 1324.8,660.0C1302.8,683.1 1280.9,706.3 1258.9,729.4"/>
<path d="M1405.7,612.0C1430.8,616.4 1456.0,620.2 1481.0,625.2C1508.1,630.6 1534.7,637.8 1561.8,643.0C1601.0,650.6 1640.4,656.7 1679.6,663.6"/>
<path d="M1405.7,609.0C1441.6,613.9 1477.4,619.1 1513.3,623.6C1545.6,627.7 1578.0,631.3 1610.4,634.9C1640.3,638.3 1670.1,641.2 1700.0,644.6C1733.3,648.3 1766.6,652.6 1800.0,656.2C1847.0,661.3 1894.0,665.8 1941.0,670.6"/>
<path d="M1580.7,610.6C1552.8,614.4 1524.9,618.3 1497.0,622.0C1464.7,626.3 1432.3,630.4 1400.0,634.5C1345.8,641.3 1291.6,647.6 1237.4,654.7C1202.0,659.3 1166.7,664.6 1131.3,669.6"/>
<path d="M1610.4,617.6C1599.6,627.1 1589.4,637.4 1578.0,646.2C1562.4,658.2 1547.4,672.0 1529.4,680.0C1494.3,695.6 1457.2,706.7 1420.0,716.2C1379.9,726.4 1338.6,731.5 1297.9,739.1"/>
<path d="M1640.0,617.7C1660.0,628.8 1679.9,640.0 1700.0,651.0C1705.2,653.9 1710.6,656.4 1716.0,659.1"/>
<path d="M1659.4,609.8C1672.9,611.7 1686.4,613.7 1700.0,615.5C1750.0,622.0 1799.8,629.8 1850.0,634.7C1908.7,640.5 1967.9,640.5 2026.4,647.7C2042.1,649.6 2057.4,655.1 2071.7,662.0C2076.9,664.5 2081.0,669.6 2083.0,675.0C2085.9,682.9 2084.8,691.7 2085.9,700.0C2087.1,709.5 2090.7,718.8 2090.0,728.3C2089.3,738.1 2086.2,747.9 2081.6,756.6C2077.1,765.2 2070.5,772.9 2063.2,779.3C2054.8,786.7 2045.1,792.8 2035.0,797.7C2023.7,803.2 2011.5,806.7 1999.5,810.4C1991.2,812.9 1982.7,814.4 1974.3,816.4"/>
<path d="M1069.5,691.0L1013.2,731.0"/>
<path d="M1111.0,691.0L1204.5,733.3"/>
<path d="M1119.2,688.1C1165.0,700.9 1210.8,713.9 1256.7,726.5C1311.1,741.5 1364.7,759.9 1420.0,771.0C1487.0,784.4 1555.0,793.0 1623.0,800.0C1704.8,808.4 1787.1,811.5 1869.2,817.2"/>
<path d="M1582.0,687.3C1528.0,698.9 1474.3,711.7 1420.0,722.0C1379.6,729.7 1338.7,734.8 1298.0,741.2"/>
<path d="M1593.6,691.2C1582.4,695.8 1571.1,700.3 1560.0,705.0C1545.8,711.0 1530.5,715.1 1517.5,723.5C1502.5,733.3 1490.2,746.9 1477.0,759.0C1469.7,765.7 1462.3,772.4 1456.0,780.0C1450.7,786.4 1446.8,793.9 1442.2,800.9"/>
<path d="M1611.6,691.0L1565.0,730.4"/>
<path d="M1725.3,691.5C1710.2,699.3 1695.1,707.1 1680.0,715.0C1664.2,723.3 1648.1,730.8 1632.8,740.0C1612.0,752.5 1592.3,766.7 1572.0,780.0C1548.0,795.8 1525.7,814.5 1500.0,827.3C1487.8,833.4 1473.3,832.9 1460.0,836.0C1424.6,844.3 1390.1,857.0 1354.0,861.5C1263.7,872.7 1172.7,876.7 1082.0,883.0C1014.7,887.7 947.2,890.6 879.8,894.3"/>
<path d="M1737.5,691.5L1704.8,729.3"/>
<path d="M1761.7,691.5L1896.2,803.2"/>
<path d="M1952.8,684.5C1901.9,692.5 1851.0,700.7 1800.0,708.6C1733.4,718.9 1666.6,728.6 1600.0,739.0C1594.7,739.8 1589.5,741.1 1584.3,742.2"/>
<path d="M1975.5,691.0C1954.7,711.5 1934.2,732.2 1913.2,752.5C1906.9,758.6 1900.7,764.8 1893.7,770.0C1873.8,784.8 1853.6,799.2 1832.7,812.5C1822.3,819.1 1812.0,826.8 1800.0,829.8C1767.3,838.1 1733.4,841.1 1700.0,846.0C1664.3,851.2 1628.7,856.9 1592.8,860.0C1513.3,866.8 1433.7,871.4 1354.0,875.5C1263.4,880.1 1172.7,882.4 1082.0,886.0C1014.6,888.7 947.2,891.7 879.8,894.5"/>
<path d="M1986.8,691.0L1986.8,726.2"/>
<path d="M2001.0,691.0C2003.8,694.0 2006.5,697.1 2009.4,700.0C2014.1,704.8 2019.7,708.8 2023.6,714.2C2028.3,720.7 2032.9,727.7 2035.0,735.4C2036.8,742.2 2036.7,749.7 2035.0,756.6C2033.3,763.4 2029.5,769.6 2025.0,775.0C2019.8,781.2 2013.3,786.1 2006.6,790.6C1997.6,796.6 1987.8,801.1 1978.3,806.2C1976.7,807.1 1975.0,807.7 1973.3,808.4"/>
<path d="M1238.4,764.3L1234.4,799.0"/>
<path d="M1253.4,764.3L1303.7,803.5"/>
<path d="M1269.7,764.3L1380.9,806.6"/>
<path d="M1286.0,757.5C1398.3,769.5 1510.6,782.2 1623.0,793.5C1705.0,801.7 1787.1,808.5 1869.2,815.9"/>
<path d="M1908.6,837.5L1853.0,877.0"/>
<path d="M1926.9,837.5L1926.9,872.0"/>
<path d="M1941.3,837.5L1994.3,876.8"/>
<path d="M1891.5,834.3C1802.0,842.4 1712.7,853.3 1623.0,858.7C1442.8,869.5 1262.3,874.4 1082.0,883.0C1014.6,886.2 947.2,890.6 879.8,894.3"/>
<path d="M1891.5,836.0C1802.0,846.8 1712.6,858.7 1623.0,868.3C1544.6,876.7 1466.1,882.7 1387.6,889.9"/>
<path d="M831.8,911.4L831.8,946.6"/>
</g>
<g fill="#63b8ff" stroke="#63b8ff" stroke-width="2.0">
<polygon points="411.4,79.2 417.9,66.7 424.3,73.5"/>
<polygon points="704.3,78.6 690.2,79.8 692.5,70.8"/>
<polygon points="1245.3,151.5 1231.3,153.6 1233.0,144.5"/>
<polygon points="180.2,372.6 180.5,358.5 189.2,361.7"/>
<polygon points="359.2,152.4 362.8,138.8 370.5,144.0"/>
<polygon points="443.2,225.6 434.6,214.4 443.4,211.5"/>
<polygon points="104.0,225.6 109.7,212.7 116.5,219.1"/>
<polygon points="797.0,896.6 783.4,900.5 784.0,891.2"/>
<polygon points="430.1,372.2 417.1,366.7 423.4,359.8"/>
<polygon points="1055.9,669.4 1041.8,670.1 1044.5,661.2"/>
<polygon points="1233.7,157.3 1220.1,161.0 1220.8,151.7"/>
<polygon points="878.6,151.8 864.5,150.7 868.3,142.1"/>
<polygon points="537.1,299.5 548.0,290.6 551.2,299.3"/>
<polygon points="827.3,299.5 829.7,285.6 837.8,290.1"/>
<polygon points="911.4,446.0 906.2,432.8 915.6,432.5"/>
<polygon points="1056.7,224.7 1042.6,224.4 1045.8,215.7"/>
<polygon points="1611.3,665.7 1599.7,657.6 1607.3,652.2"/>
<polygon points="1117.7,664.7 1127.5,654.5 1131.7,662.9"/>
<polygon points="1022.0,227.2 1034.2,219.9 1036.0,229.1"/>
<polygon points="1425.8,812.3 1422.8,798.5 1432.1,799.6"/>
<polygon points="1195.0,746.6 1181.4,750.4 1182.0,741.0"/>
<polygon points="2025.1,664.0 2034.9,653.8 2039.1,662.2"/>
<polygon points="1775.8,665.0 1783.1,652.9 1789.1,660.1"/>
<polygon points="1961.0,819.5 1974.5,815.5 1974.1,824.8"/>
<polygon points="131.7,446.0 124.5,433.8 133.7,432.0"/>
<polygon points="154.4,519.2 161.0,506.8 167.4,513.6"/>
<polygon points="1056.0,671.1 1042.3,674.5 1043.2,665.2"/>
<polygon points="500.1,299.3 487.7,292.5 494.7,286.3"/>
<polygon points="782.6,302.3 768.6,304.4 770.3,295.2"/>
<polygon points="711.5,299.7 723.5,292.3 725.6,301.4"/>
<polygon points="846.6,298.8 857.0,289.2 860.7,297.8"/>
<polygon points="1025.2,519.7 1018.7,507.1 1028.0,505.8"/>
<polygon points="1925.4,812.0 1919.7,799.1 1929.0,798.3"/>
<polygon points="707.7,665.0 716.9,654.2 721.6,662.3"/>
<polygon points="1086.9,299.7 1083.5,286.0 1092.8,286.9"/>
<polygon points="1217.9,298.8 1203.8,297.4 1207.8,288.9"/>
<polygon points="219.9,375.7 232.5,369.3 233.8,378.5"/>
<polygon points="476.4,372.0 487.6,363.4 490.5,372.3"/>
<polygon points="876.4,450.3 862.4,452.6 864.0,443.4"/>
<polygon points="706.2,372.4 694.4,364.6 701.9,359.0"/>
<polygon points="729.3,372.0 738.2,361.0 743.1,368.9"/>
<polygon points="1195.0,746.1 1181.4,749.9 1182.0,740.5"/>
<polygon points="1055.9,668.5 1041.8,668.7 1044.8,659.8"/>
<polygon points="1749.9,665.5 1746.0,651.9 1755.3,652.4"/>
<polygon points="797.0,896.1 783.4,899.8 784.1,890.5"/>
<polygon points="1195.0,746.3 1181.4,750.1 1182.0,740.8"/>
<polygon points="1123.2,372.5 1112.2,363.6 1120.1,358.7"/>
<polygon points="1117.7,663.8 1126.6,652.8 1131.5,660.7"/>
<polygon points="1925.1,812.0 1919.7,798.9 1929.1,798.4"/>
<polygon points="2003.1,660.3 2004.9,646.3 2013.3,650.5"/>
<polygon points="1776.0,665.1 1781.5,652.1 1788.4,658.4"/>
<polygon points="140.8,445.8 143.7,432.0 151.7,436.7"/>
<polygon points="797.0,895.6 783.4,899.4 784.0,890.1"/>
<polygon points="1282.5,891.0 1268.7,893.9 1269.9,884.6"/>
<polygon points="672.1,665.2 659.1,659.8 665.3,652.8"/>
<polygon points="1056.0,676.6 1042.3,680.0 1043.2,670.7"/>
<polygon points="876.4,451.2 862.5,453.7 864.0,444.5"/>
<polygon points="1338.9,445.4 1324.8,446.2 1327.4,437.3"/>
<polygon points="1127.5,592.4 1123.0,579.0 1132.3,579.1"/>
<polygon points="797.0,895.6 783.3,899.2 784.1,889.9"/>
<polygon points="143.0,519.7 136.6,507.1 145.9,505.9"/>
<polygon points="1055.9,668.7 1041.8,667.1 1045.9,658.6"/>
<polygon points="1007.3,519.0 993.5,515.9 998.5,508.0"/>
<polygon points="1375.2,592.4 1370.6,579.0 1379.9,579.1"/>
<polygon points="1531.9,518.5 1517.8,518.2 1521.1,509.4"/>
<polygon points="1630.7,520.4 1616.6,521.7 1618.8,512.6"/>
<polygon points="1118.0,665.2 1130.5,658.6 1131.9,667.8"/>
<polygon points="866.5,895.1 879.6,889.7 880.1,899.1"/>
<polygon points="797.0,898.0 783.6,902.5 783.7,893.2"/>
<polygon points="1019.1,593.1 1016.4,579.2 1025.7,580.6"/>
<polygon points="1111.0,591.8 1097.5,587.8 1102.9,580.2"/>
<polygon points="973.9,739.7 966.1,727.9 975.1,725.6"/>
<polygon points="1611.2,592.3 1600.0,583.7 1607.8,578.6"/>
<polygon points="1255.4,738.3 1264.2,727.2 1269.2,735.1"/>
<polygon points="1740.4,665.6 1728.1,658.7 1735.1,652.5"/>
<polygon points="1961.0,815.8 1972.8,808.0 1975.1,817.1"/>
<polygon points="1091.8,666.3 1094.5,652.4 1102.6,657.1"/>
<polygon points="713.2,672.2 725.8,665.7 727.1,675.0"/>
<polygon points="1882.5,819.2 1868.7,822.3 1869.8,813.0"/>
<polygon points="1118.0,666.7 1130.8,660.6 1131.7,669.9"/>
<polygon points="860.7,878.3 870.3,867.9 874.6,876.2"/>
<polygon points="1249.8,739.1 1255.6,726.2 1262.3,732.6"/>
<polygon points="1692.8,665.9 1678.8,668.2 1680.4,659.0"/>
<polygon points="1954.3,672.0 1940.6,675.2 1941.5,666.0"/>
<polygon points="1118.0,670.6 1130.9,664.9 1131.7,674.2"/>
<polygon points="1284.8,741.6 1297.1,734.5 1298.8,743.7"/>
<polygon points="1727.8,665.2 1713.8,663.3 1718.1,655.0"/>
<polygon points="1961.0,817.6 1973.8,811.7 1974.7,821.0"/>
<polygon points="1002.3,738.7 1010.4,727.1 1015.9,734.8"/>
<polygon points="1216.7,738.8 1202.6,737.6 1206.4,729.1"/>
<polygon points="1882.5,818.1 1868.9,821.8 1869.5,812.5"/>
<polygon points="1284.8,743.2 1297.3,736.6 1298.7,745.8"/>
<polygon points="1434.9,812.1 1438.3,798.4 1446.1,803.5"/>
<polygon points="1554.9,739.0 1562.0,726.8 1568.0,733.9"/>
<polygon points="866.5,895.1 879.5,889.7 880.1,899.0"/>
<polygon points="1696.0,739.3 1701.2,726.2 1708.3,732.3"/>
<polygon points="1907.2,810.6 1893.6,807.1 1898.7,799.4"/>
<polygon points="1571.2,744.8 1583.4,737.6 1585.2,746.7"/>
<polygon points="866.5,895.1 879.6,889.8 880.0,899.2"/>
<polygon points="1986.8,739.5 1982.1,726.2 1991.5,726.2"/>
<polygon points="1961.1,813.8 1971.4,804.1 1975.2,812.7"/>
<polygon points="1232.8,812.3 1229.7,798.5 1239.0,799.6"/>
<polygon points="1314.2,811.7 1300.8,807.2 1306.5,799.8"/>
<polygon points="1393.4,811.3 1379.3,811.0 1382.6,802.2"/>
<polygon points="1882.5,817.1 1868.8,820.6 1869.6,811.3"/>
<polygon points="1842.2,884.7 1850.3,873.1 1855.7,880.8"/>
<polygon points="1926.9,885.3 1922.2,872.0 1931.6,872.0"/>
<polygon points="2005.0,884.7 1991.5,880.5 1997.1,873.0"/>
<polygon points="866.5,895.1 879.5,889.7 880.1,899.0"/>
<polygon points="1374.3,891.1 1387.2,885.3 1388.0,894.6"/>
<polygon points="831.8,959.9 827.1,946.6 836.5,946.6"/>
</g>
</svg></body></html>
